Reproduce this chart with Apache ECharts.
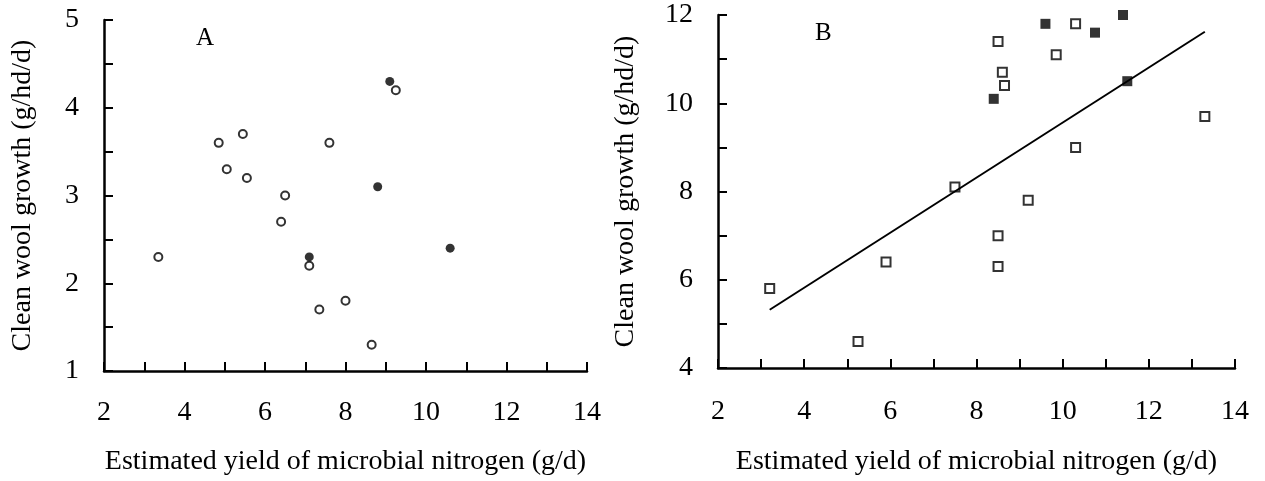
<!DOCTYPE html>
<html>
<head>
<meta charset="utf-8">
<script src="https://cdn.jsdelivr.net/npm/echarts@6/dist/echarts.min.js"></script>
<style>html,body{margin:0;padding:0;background:#fff}#c{width:1265px;height:481px}</style>
</head>
<body>
<div id="c"></div>
<script>
// Panel A data: [microbial N (g/d), clean wool growth (g/hd/d)]
const aOpen = [[4.85,3.6],[5.45,3.7],[5.05,3.3],[5.55,3.2],[6.5,3.0],[6.4,2.7],[7.6,3.6],[9.25,4.2],[3.35,2.3],[7.1,2.2],[7.35,1.7],[8.0,1.8],[8.65,1.3]];
const aFilled = [[9.1,4.3],[8.8,3.1],[7.1,2.3],[10.6,2.4]];
// Panel B data
const bOpen = [[8.5,11.4],[10.3,11.8],[9.85,11.1],[8.6,10.7],[8.65,10.4],[13.3,9.7],[10.3,9.0],[7.5,8.1],[9.2,7.8],[8.5,7.0],[8.5,6.3],[3.2,5.8],[5.9,6.4],[5.25,4.6]];
const bFilled = [[9.6,11.8],[10.75,11.6],[11.4,12.0],[11.5,10.5],[8.4,10.1]];
const bLine = [[3.2,5.32],[13.3,11.62]];
const xTitle = 'Estimated yield of microbial nitrogen (g/d)';
const yTitle = 'Clean wool growth (g/hd/d)';

const FONT = 'Liberation Serif';
const txt = {color:'#000', fontFamily:FONT, fontSize:28};
function xAxis(gi, margin, nameGap){
  return {type:'value', gridIndex:gi, min:2, max:14, interval:2,
    axisLine:{show:true, lineStyle:{color:'#000', width:2.5}},
    axisTick:{show:true, inside:true, length:9, lineStyle:{color:'#000', width:2}},
    minorTick:{show:true, splitNumber:2, length:9, lineStyle:{color:'#000', width:2}},
    splitLine:{show:false},
    axisLabel:Object.assign({margin:margin}, txt),
    name:xTitle, nameLocation:'middle', nameGap:nameGap,
    nameTextStyle:txt};
}
function yAxis(gi, min, max, interval, nameGap){
  return {type:'value', gridIndex:gi, min:min, max:max, interval:interval,
    axisLine:{show:true, lineStyle:{color:'#000', width:2.5}},
    axisTick:{show:true, inside:true, length:9, lineStyle:{color:'#000', width:2}},
    minorTick:{show:true, splitNumber:2, length:9, lineStyle:{color:'#000', width:2}},
    splitLine:{show:false},
    axisLabel:Object.assign({margin:25, padding:[6,0,0,0]}, txt),
    name:yTitle, nameLocation:'middle', nameGap:nameGap, nameRotate:90,
    nameTextStyle:txt};
}
const chart = echarts.init(document.getElementById('c'));
chart.setOption({
  animation:false,
  backgroundColor:'#fff',
  title:[
    {text:'A', left:196, top:26, padding:0, textStyle:{color:'#000', fontFamily:FONT, fontSize:25, fontWeight:'normal'}},
    {text:'B', left:815, top:21, padding:0, textStyle:{color:'#000', fontFamily:FONT, fontSize:25, fontWeight:'normal'}}
  ],
  grid:[
    {left:104, top:20, width:483, height:357},
    {left:718, top:15, width:517, height:354}
  ],
  xAxis:[xAxis(0, 28, 77), xAxis(1, 30, 80)],
  yAxis:[yAxis(0, 1, 5, 1, 67), yAxis(1, 4, 12, 2, 78)],
  series:[
    {type:'scatter', xAxisIndex:0, yAxisIndex:0, data:aOpen, symbol:'circle', symbolSize:8,
     itemStyle:{color:'#fff', borderColor:'#000', borderWidth:2}},
    {type:'scatter', xAxisIndex:0, yAxisIndex:0, data:aFilled, symbol:'circle', symbolSize:9,
     itemStyle:{color:'#000'}},
    {type:'line', xAxisIndex:1, yAxisIndex:1, data:bLine, showSymbol:false, symbol:'none',
     lineStyle:{color:'#000', width:2}},
    {type:'scatter', xAxisIndex:1, yAxisIndex:1, data:bOpen, symbol:'rect', symbolSize:9,
     itemStyle:{color:'#fff', borderColor:'#000', borderWidth:2}},
    {type:'scatter', xAxisIndex:1, yAxisIndex:1, data:bFilled, symbol:'rect', symbolSize:10,
     itemStyle:{color:'#000'}}
  ]
});
</script>
</body>
</html>
